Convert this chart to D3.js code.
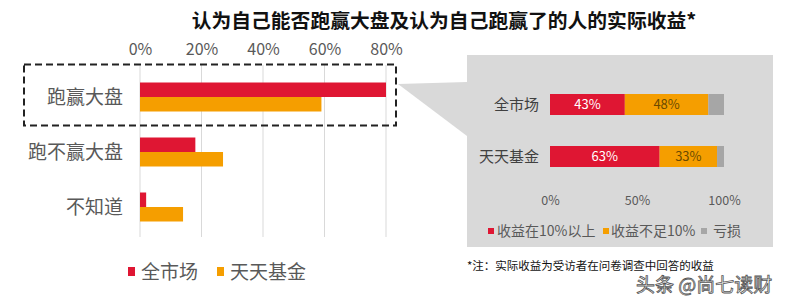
<!DOCTYPE html>
<html><head><meta charset="utf-8">
<script src="https://cdn.jsdelivr.net/npm/d3@7/dist/d3.min.js"></script>
<style>
body{margin:0;background:#fff;}
svg{display:block;}
text{font-family:"Noto Sans CJK SC","Noto Sans",sans-serif;}
</style></head>
<body><svg id="c" width="793" height="296"></svg>
<script>
// ---- data ----
const title = "认为自己能否跑赢大盘及认为自己跑赢了的人的实际收益*";
const categories = ["跑赢大盘", "跑不赢大盘", "不知道"];
const seriesNames = ["全市场", "天天基金"];
const allMarket = [80, 18, 2];
const tiantian = [59, 27, 14];
const leftTicks = [0, 20, 40, 60, 80];

const groups = ["全市场", "天天基金"];
const returnNames = ["收益在10%以上", "收益不足10%", "亏损"];
const above10 = [43, 63];
const below10 = [48, 33];
const loss = [9, 4];
const rightTicks = [0, 50, 100];
const note = "*注：实际收益为受访者在问卷调查中回答的收益";
const watermark = "头条 @尚七读财";

const red = "#df1633", orange = "#f59e00", grey = "#a6a6a6";
const svg = d3.select("#c");

// title
svg.append("text").attr("x", 444).attr("y", 28).attr("text-anchor", "middle")
  .attr("font-size", 19.8).attr("font-weight", "bold").attr("fill", "#111").text(title);

// ---- left chart ----
const x = d3.scaleLinear().domain([0, 80]).range([140, 386]);
const y = d3.scaleBand().domain(categories).range([69.5, 234.5]).paddingInner(26/55).paddingOuter(13/55);
const ys = d3.scaleBand().domain(seriesNames).range([0, y.bandwidth()]);

// gridlines
svg.append("g").selectAll("line").data(leftTicks).join("line")
  .attr("x1", d => x(d)).attr("x2", d => x(d)).attr("y1", 65).attr("y2", 237)
  .attr("stroke", "#d9d9d9").attr("stroke-width", 1);

const topAxis = svg.append("g").attr("transform", "translate(0,58)")
  .call(d3.axisTop(x).tickValues(leftTicks).tickFormat(d => d + "%").tickSize(0));
topAxis.select(".domain").remove();
topAxis.selectAll("text").attr("font-family", "'Open Sans',sans-serif").attr("font-size", 16).attr("fill", "#595959");

const rows = categories.map((c, i) => ({c, v: [allMarket[i], tiantian[i]]}));
const g = svg.append("g");
rows.forEach(r => {
  r.v.forEach((v, j) => {
    g.append("rect").attr("x", x(0)).attr("y", y(r.c) + ys(seriesNames[j]))
      .attr("width", x(v) - x(0)).attr("height", ys.bandwidth())
      .attr("fill", j === 0 ? red : orange);
  });
});
// category labels
svg.append("g").selectAll("text").data(categories).join("text")
  .attr("x", 123).attr("y", d => y(d) + y.bandwidth()/2).attr("dy", "0.35em")
  .attr("text-anchor", "end").attr("font-size", 19).attr("fill", "#595959").text(d => d);

// dashed box
svg.append("rect").attr("x", 24).attr("y", 64.5).attr("width", 372).attr("height", 61)
  .attr("fill", "none").attr("stroke", "#222").attr("stroke-width", 2).attr("stroke-dasharray", "7,4");

// left legend
const legL = [{n: seriesNames[0], c: red, x: 128}, {n: seriesNames[1], c: orange, x: 217}];
legL.forEach(l => {
  svg.append("rect").attr("x", l.x).attr("y", 267).attr("width", 7).attr("height", 9).attr("fill", l.c);
  svg.append("text").attr("x", l.x + 13).attr("y", 272).attr("dy", "0.35em")
    .attr("font-size", 19).attr("fill", "#595959").text(l.n);
});

// ---- callout + right panel ----
svg.append("path").attr("d", "M398,84 L467,82 L467,136 Z").attr("fill", "#d9d9d9");
svg.append("rect").attr("x", 467).attr("y", 55).attr("width", 306).attr("height", 192).attr("fill", "#d9d9d9");

const xr = d3.scaleLinear().domain([0, 100]).range([550, 724]);
const yr = d3.scaleBand().domain(groups).range([78.5, 182.5]).paddingInner(31/52).paddingOuter(15.5/52);
const stackData = groups.map((gname, i) => ({g: gname, a: above10[i], b: below10[i], l: loss[i]}));
const stack = d3.stack().keys(["a", "b", "l"])(stackData);
const cols = [red, orange, grey];
stack.forEach((layer, k) => {
  layer.forEach(seg => {
    svg.append("rect").attr("x", xr(seg[0])).attr("y", yr(seg.data.g))
      .attr("width", xr(seg[1]) - xr(seg[0])).attr("height", yr.bandwidth()).attr("fill", cols[k]);
    if (k < 2) {
      svg.append("text").attr("x", (xr(seg[0]) + xr(seg[1]))/2).attr("y", yr(seg.data.g) + yr.bandwidth()/2)
        .attr("dy", "0.35em").attr("text-anchor", "middle").attr("font-family", "'Liberation Sans',Arial,sans-serif")
        .attr("font-size", 13).attr("fill", k === 0 ? "#fff" : "#6b4a00").text((seg[1] - seg[0]) + "%");
    }
  });
});
svg.append("g").selectAll("text").data(groups).join("text")
  .attr("x", 539).attr("y", d => yr(d) + yr.bandwidth()/2).attr("dy", "0.35em")
  .attr("text-anchor", "end").attr("font-size", 15).attr("fill", "#404040").text(d => d);

const rAxis = svg.append("g").attr("transform", "translate(0,193)")
  .call(d3.axisBottom(xr).tickValues(rightTicks).tickFormat(d => d + "%").tickSize(0));
rAxis.select(".domain").remove();
rAxis.selectAll("text").attr("font-family", "'Liberation Sans',Arial,sans-serif").attr("font-size", 12.5).attr("fill", "#595959");

// right legend
const legR = [{n: returnNames[0], c: red, x: 488, tx: 497}, {n: returnNames[1], c: orange, x: 603, tx: 611}, {n: returnNames[2], c: grey, x: 701, tx: 713}];
legR.forEach(l => {
  svg.append("rect").attr("x", l.x).attr("y", 228).attr("width", 6).attr("height", 6).attr("fill", l.c);
  svg.append("text").attr("x", l.tx).attr("y", 231).attr("dy", "0.35em")
    .attr("font-size", 14).attr("fill", "#595959").text(l.n);
});

// note and watermark
svg.append("text").attr("x", 467).attr("y", 266).attr("dy", "0.35em").attr("font-size", 11.5).attr("fill", "#111").text(note);
svg.append("text").attr("x", 636).attr("y", 285).attr("dy", "0.35em").attr("font-size", 19)
  .attr("fill", "#fff").attr("stroke", "#555").attr("stroke-width", 0.8).text(watermark);
</script></body></html>
